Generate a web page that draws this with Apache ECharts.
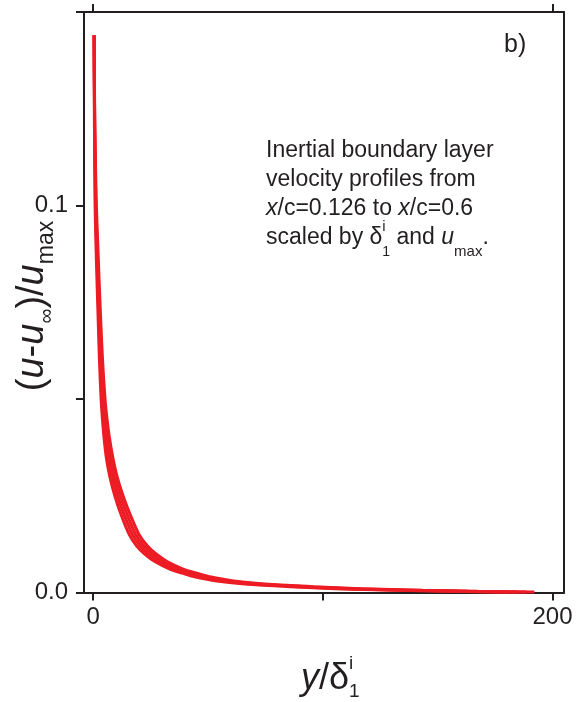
<!DOCTYPE html>
<html>
<head>
<meta charset="utf-8">
<script src="https://cdn.jsdelivr.net/npm/echarts@6.0.0/dist/echarts.min.js"></script>
<style>
  html, body { margin: 0; padding: 0; background: #fff; }
  #chart { width: 580px; height: 702px; }
</style>
</head>
<body>
<div id="chart"></div>
<script>
// Velocity-defect levels (u-u∞)/u_max shared by all profiles
const defectLevels = [0.144, 0.13, 0.12, 0.11, 0.10, 0.09, 0.08, 0.07, 0.06, 0.05, 0.045, 0.04, 0.035, 0.03,
  0.025, 0.02, 0.015, 0.012, 0.01, 0.008, 0.006, 0.005, 0.004, 0.003, 0.002, 0.0015, 0.001, 0.0006, 0.0003, 0.0001];

// Wall distance y/δ1^i at each level, one list per streamwise station
const profileA = [0.4, 0.47, 0.55, 0.68, 0.83, 1.2, 1.68, 2.2, 2.72, 3.44, 4.0, 4.72, 5.68, 7.22,
  9.41, 12.21, 15.66, 18.96, 22.32, 26.85, 33.58, 38.85, 44.64, 53.76, 70.97, 86.0, 105.45, 130.8, 154.6, 180.9];
const profileB = [0.4, 0.50, 0.62, 0.79, 1.01, 1.47, 1.99, 2.57, 3.17, 4.01, 4.67, 5.51, 6.63, 8.27,
  10.6, 13.54, 17.09, 20.52, 23.97, 28.62, 35.53, 40.95, 46.88, 56.25, 74.0, 89.33, 109.15, 134.9, 158.9, 184.6];
const profileC = [0.4, 0.54, 0.68, 0.91, 1.19, 1.73, 2.31, 2.93, 3.63, 4.59, 5.33, 6.29, 7.57, 9.33,
  11.8, 14.86, 18.51, 22.08, 25.63, 30.39, 37.47, 43.05, 49.12, 58.75, 77.0, 92.67, 112.85, 139.1, 163.1, 188.4];
const profileD = [0.4, 0.57, 0.75, 1.02, 1.38, 2.0, 2.62, 3.3, 4.08, 5.16, 6.0, 7.08, 8.52, 10.38,
  12.99, 16.19, 19.94, 23.64, 27.28, 32.16, 39.42, 45.15, 51.36, 61.24, 80.03, 96.0, 116.55, 143.2, 167.4, 192.1];

const profiles = [profileA, profileB, profileC, profileD];

// Axis ticks and labels
const xTicks = [0, 100, 200];
const xTopTicks = [0, 200];
const xLabels = [0, 200];
const yTicks = [0, 0.05, 0.1, 0.15];
const yLabels = [0, 0.1];

const INK = '#231f20';
const RED = '#ed1c24';
const FONT = '"Liberation Sans", Arial, Helvetica, sans-serif';

const measureCtx = document.createElement('canvas').getContext('2d');
function fontOf(s) {
  return (s.italic ? 'italic ' : '') + s.size + 'px ' + FONT;
}
// Lays a run of text pieces along one baseline; pieces marked `stack`
// share their horizontal slot with the piece that follows.
function textRun(segs, x0, base) {
  let x = x0;
  const els = [];
  for (const s of segs) {
    const f = fontOf(s);
    measureCtx.font = f;
    const w = measureCtx.measureText(s.t).width;
    els.push({
      type: 'text',
      x: x,
      y: base + (s.dy || 0) - 0.31 * s.size,
      style: { text: s.t, font: f, fill: INK, align: 'left', verticalAlign: 'middle' }
    });
    if (!s.stack) x += w;
  }
  return { els: els, width: x - x0 };
}

const NOTE = 23;
const noteLines = [
  [{ t: 'Inertial boundary layer', size: NOTE }],
  [{ t: 'velocity profiles from', size: NOTE }],
  [{ t: 'x', size: NOTE, italic: true }, { t: '/c=0.126 to ', size: NOTE },
   { t: 'x', size: NOTE, italic: true }, { t: '/c=0.6', size: NOTE }],
  [{ t: 'scaled by δ', size: NOTE }, { t: 'i', size: 15, dy: -13, stack: true }, { t: '1', size: 14, dy: 11 },
   { t: ' and ', size: NOTE }, { t: 'u', size: NOTE, italic: true }, { t: 'max', size: 15, dy: 12 },
   { t: '.', size: NOTE }]
];
const noteBaselines = [158, 187, 216, 245];

const graphics = [];
noteLines.forEach(function (line, i) {
  graphics.push.apply(graphics, textRun(line, 266, noteBaselines[i]).els);
});

// panel tag
graphics.push.apply(graphics, textRun([{ t: 'b)', size: 25 }], 504, 53).els);

// x-axis title  y/δ1^i
graphics.push.apply(graphics, textRun([
  { t: 'y', size: 36, italic: true }, { t: '/δ', size: 36 },
  { t: 'i', size: 19, dy: -20, stack: true }, { t: '1', size: 19, dy: 8 }
], 301, 690).els);

// y-axis title  (u-u∞)/u_max, rotated to read upwards
const ySegs = [
  { t: '(', size: 38 }, { t: 'u', size: 38, italic: true }, { t: '-', size: 38 },
  { t: 'u', size: 38, italic: true }, { t: '∞', size: 21, dy: 10 }, { t: ')/', size: 38 },
  { t: 'u', size: 38, italic: true }, { t: 'max', size: 23, dy: 10 }
];
const yW = textRun(ySegs, 0, 0).width;
graphics.push({
  type: 'group',
  x: 44,
  y: 306,
  rotation: Math.PI / 2,
  children: textRun(ySegs, -yW / 2, 0).els
});

const series = profiles.map(function (xs, k) {
  return {
    type: 'line',
    name: 'profile' + (k + 1),
    data: xs.map(function (x, i) { return [x, defectLevels[i]]; }),
    showSymbol: false,
    smooth: 0.25,
    lineStyle: { color: RED, width: 3 },
    itemStyle: { color: RED },
    silent: true,
    animation: false
  };
});

const axisCommon = {
  type: 'value',
  axisLine: { show: true, onZero: false, lineStyle: { color: INK, width: 2 } },
  splitLine: { show: false },
  axisTick: { show: false },
  axisLabel: { show: false }
};

const chart = echarts.init(document.getElementById('chart'), null, { renderer: 'canvas' });
chart.setOption({
  backgroundColor: '#ffffff',
  animation: false,
  grid: { left: 84, right: 16, top: 12, bottom: 109.5, containLabel: false },
  xAxis: [
    Object.assign({}, axisCommon, {
      position: 'bottom', min: -4, max: 205,
      axisTick: { show: true, customValues: xTicks, length: 8, lineStyle: { color: INK, width: 2 } },
      axisLabel: {
        show: true, customValues: xLabels, margin: 13,
        color: INK, fontSize: 24, fontFamily: FONT,
        formatter: function (v) { return String(v); }
      }
    }),
    Object.assign({}, axisCommon, {
      position: 'top', min: -4, max: 205,
      axisTick: { show: true, customValues: xTopTicks, length: 8, lineStyle: { color: INK, width: 2 } }
    })
  ],
  yAxis: [
    Object.assign({}, axisCommon, {
      position: 'left', min: 0, max: 0.15,
      axisTick: { show: true, customValues: yTicks, length: 8, lineStyle: { color: INK, width: 2 } },
      axisLabel: {
        show: true, customValues: yLabels, margin: 16,
        color: INK, fontSize: 24, fontFamily: FONT,
        formatter: function (v) { return v.toFixed(1); }
      }
    }),
    Object.assign({}, axisCommon, { position: 'right', min: 0, max: 0.15 })
  ],
  series: series,
  graphic: graphics
});
</script>
</body>
</html>
